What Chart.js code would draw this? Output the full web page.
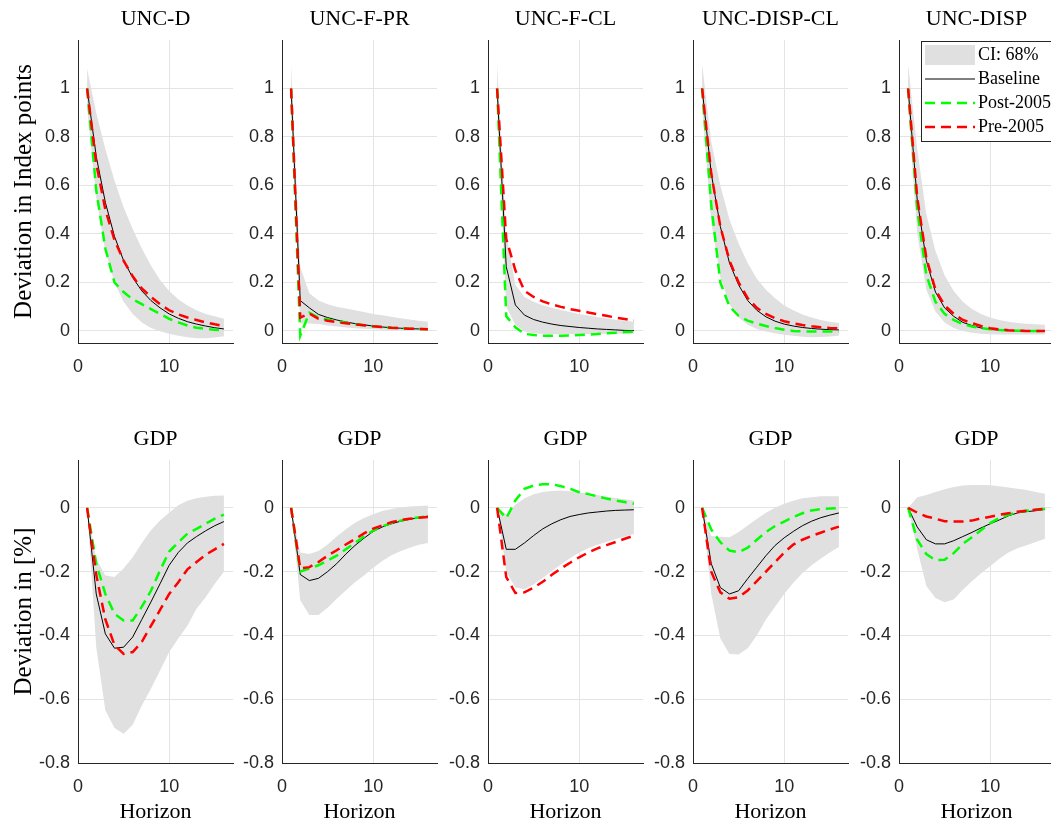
<!DOCTYPE html>
<html>
<head>
<meta charset="utf-8">
<script src="https://cdn.jsdelivr.net/npm/chart.js@4.4.0/dist/chart.umd.min.js"></script>
<style>
  html, body { margin: 0; padding: 0; background: #fff; overflow: hidden; }
  body { width: 1051px; height: 827px; position: relative; }
  canvas { position: absolute; }
</style>
</head>
<body>
<script>
// horizons and ticks
const horizon = [1, 2, 3, 4, 5, 6, 7, 8, 9, 10, 11, 12, 13, 14, 15, 16];
const horizonTicks = [0, 10];
const shockTicks = [0, 0.2, 0.4, 0.6, 0.8, 1];
const gdpTicks = [-0.8, -0.6, -0.4, -0.2, 0];
const shockNames = ['UNC-D', 'UNC-F-PR', 'UNC-F-CL', 'UNC-DISP-CL', 'UNC-DISP'];
const legendLabels = ['CI: 68%', 'Baseline', 'Post-2005', 'Pre-2005'];

// top row: response of the uncertainty index itself
const uncD_base = [1.0, 0.72, 0.53, 0.39, 0.29, 0.22, 0.165, 0.125, 0.095, 0.07, 0.052, 0.038, 0.028, 0.02, 0.013, 0.008];
const uncD_post = [1.0, 0.58, 0.34, 0.2, 0.16, 0.13, 0.11, 0.09, 0.07, 0.05, 0.035, 0.022, 0.013, 0.008, 0.005, 0.003];
const uncD_pre  = [1.0, 0.69, 0.5, 0.375, 0.29, 0.225, 0.175, 0.14, 0.11, 0.085, 0.068, 0.055, 0.045, 0.035, 0.027, 0.02];
const uncD_hi   = [1.08, 0.9, 0.75, 0.62, 0.51, 0.42, 0.34, 0.27, 0.21, 0.165, 0.13, 0.105, 0.085, 0.07, 0.06, 0.05];
const uncD_lo   = [0.92, 0.55, 0.33, 0.2, 0.12, 0.07, 0.035, 0.012, -0.002, -0.012, -0.02, -0.026, -0.03, -0.03, -0.027, -0.022];

const uncFPR_base = [1.0, 0.125, 0.095, 0.068, 0.055, 0.045, 0.037, 0.03, 0.025, 0.02, 0.016, 0.013, 0.011, 0.009, 0.008, 0.007];
const uncFPR_post = [1.0, -0.02, 0.075, 0.055, 0.047, 0.04, 0.034, 0.028, 0.023, 0.019, 0.016, 0.013, 0.011, 0.009, 0.008, 0.007];
const uncFPR_pre  = [1.0, 0.055, 0.072, 0.05, 0.042, 0.036, 0.031, 0.027, 0.023, 0.019, 0.016, 0.013, 0.011, 0.009, 0.008, 0.007];
const uncFPR_hi   = [1.1, 0.265, 0.155, 0.125, 0.11, 0.1, 0.092, 0.085, 0.078, 0.07, 0.064, 0.058, 0.052, 0.047, 0.042, 0.038];
const uncFPR_lo   = [0.92, 0.03, 0.03, 0.028, 0.022, 0.018, 0.014, 0.011, 0.009, 0.007, 0.005, 0.004, 0.003, 0.003, 0.003, 0.003];

const uncFCL_base = [1.0, 0.265, 0.107, 0.065, 0.047, 0.036, 0.028, 0.022, 0.018, 0.014, 0.011, 0.008, 0.006, 0.004, 0.002, 0.001];
const uncFCL_post = [1.0, 0.06, 0.015, -0.012, -0.017, -0.02, -0.02, -0.02, -0.019, -0.017, -0.015, -0.013, -0.01, -0.008, -0.005, -0.003];
const uncFCL_pre  = [1.0, 0.38, 0.25, 0.165, 0.14, 0.122, 0.109, 0.099, 0.09, 0.083, 0.076, 0.069, 0.062, 0.055, 0.049, 0.043];
const uncFCL_hi   = [1.1, 0.4, 0.19, 0.14, 0.12, 0.106, 0.095, 0.086, 0.078, 0.07, 0.063, 0.057, 0.051, 0.046, 0.042, 0.038];
const uncFCL_lo   = [0.92, 0.1, 0.025, -0.003, -0.01, -0.013, -0.014, -0.014, -0.014, -0.013, -0.013, -0.013, -0.012, -0.012, -0.012, -0.012];

const uncDCL_base = [1.0, 0.65, 0.43, 0.28, 0.19, 0.125, 0.085, 0.058, 0.04, 0.028, 0.02, 0.014, 0.01, 0.007, 0.005, 0.004];
const uncDCL_post = [1.0, 0.52, 0.2, 0.1, 0.062, 0.042, 0.03, 0.02, 0.012, 0.005, 0.0, -0.002, -0.003, -0.003, -0.003, -0.003];
const uncDCL_pre  = [1.0, 0.65, 0.43, 0.29, 0.2, 0.135, 0.095, 0.07, 0.052, 0.04, 0.031, 0.024, 0.019, 0.015, 0.012, 0.01];
const uncDCL_hi   = [1.1, 0.78, 0.6, 0.46, 0.36, 0.28, 0.215, 0.17, 0.135, 0.105, 0.085, 0.068, 0.055, 0.045, 0.038, 0.032];
const uncDCL_lo   = [0.92, 0.45, 0.22, 0.11, 0.055, 0.025, 0.008, -0.003, -0.01, -0.016, -0.02, -0.024, -0.026, -0.025, -0.023, -0.02];

const uncDSP_base = [1.0, 0.54, 0.29, 0.16, 0.095, 0.06, 0.035, 0.022, 0.012, 0.006, 0.003, 0.001, 0.0, 0.0, 0.0, 0.0];
const uncDSP_post = [1.0, 0.5, 0.23, 0.12, 0.07, 0.045, 0.028, 0.018, 0.011, 0.007, 0.004, 0.002, 0.001, 0.0, 0.0, 0.0];
const uncDSP_pre  = [1.0, 0.55, 0.3, 0.17, 0.105, 0.07, 0.045, 0.032, 0.02, 0.011, 0.006, 0.003, 0.001, 0.0, 0.0, 0.0];
const uncDSP_hi   = [1.1, 0.75, 0.48, 0.33, 0.23, 0.165, 0.12, 0.09, 0.07, 0.055, 0.045, 0.038, 0.033, 0.029, 0.027, 0.025];
const uncDSP_lo   = [0.92, 0.4, 0.17, 0.08, 0.035, 0.012, 0.0, -0.008, -0.012, -0.014, -0.015, -0.015, -0.015, -0.015, -0.015, -0.015];

// bottom row: GDP response to each shock
const gdpD_base = [0, -0.27, -0.395, -0.44, -0.437, -0.405, -0.35, -0.295, -0.238, -0.18, -0.14, -0.11, -0.09, -0.072, -0.056, -0.043];
const gdpD_post = [0, -0.175, -0.27, -0.332, -0.353, -0.353, -0.31, -0.26, -0.196, -0.137, -0.108, -0.081, -0.066, -0.05, -0.034, -0.021];
const gdpD_pre  = [0, -0.21, -0.35, -0.43, -0.458, -0.452, -0.42, -0.37, -0.32, -0.27, -0.233, -0.193, -0.17, -0.147, -0.13, -0.113];
const gdpD_hi   = [0, -0.16, -0.212, -0.217, -0.19, -0.155, -0.11, -0.07, -0.04, -0.015, 0.008, 0.022, 0.03, 0.035, 0.038, 0.039];
const gdpD_lo   = [0, -0.437, -0.635, -0.69, -0.708, -0.68, -0.62, -0.567, -0.51, -0.452, -0.41, -0.37, -0.316, -0.28, -0.238, -0.2];

const gdpFPR_base = [0, -0.209, -0.228, -0.221, -0.2, -0.175, -0.145, -0.118, -0.095, -0.074, -0.06, -0.05, -0.042, -0.036, -0.031, -0.026];
const gdpFPR_post = [0, -0.2, -0.19, -0.18, -0.165, -0.15, -0.13, -0.11, -0.09, -0.071, -0.058, -0.048, -0.04, -0.034, -0.03, -0.026];
const gdpFPR_pre  = [0, -0.19, -0.186, -0.17, -0.15, -0.133, -0.115, -0.098, -0.08, -0.065, -0.055, -0.045, -0.038, -0.034, -0.031, -0.029];
const gdpFPR_hi   = [0, -0.14, -0.145, -0.135, -0.115, -0.09, -0.067, -0.047, -0.032, -0.02, -0.01, -0.004, 0.001, 0.004, 0.006, 0.007];
const gdpFPR_lo   = [0, -0.29, -0.336, -0.336, -0.313, -0.285, -0.259, -0.233, -0.212, -0.188, -0.167, -0.149, -0.136, -0.125, -0.116, -0.11];

const gdpFCL_base = [0, -0.13, -0.13, -0.11, -0.087, -0.066, -0.05, -0.037, -0.027, -0.021, -0.016, -0.013, -0.01, -0.008, -0.007, -0.006];
const gdpFCL_post = [0, -0.033, 0.023, 0.06, 0.07, 0.074, 0.074, 0.068, 0.06, 0.049, 0.043, 0.036, 0.029, 0.023, 0.018, 0.013];
const gdpFCL_pre  = [0, -0.217, -0.267, -0.265, -0.25, -0.232, -0.21, -0.19, -0.172, -0.155, -0.14, -0.127, -0.117, -0.107, -0.097, -0.087];
const gdpFCL_hi   = [0, -0.02, 0.01, 0.03, 0.043, 0.05, 0.053, 0.054, 0.052, 0.049, 0.045, 0.04, 0.035, 0.031, 0.027, 0.023];
const gdpFCL_lo   = [0, -0.2, -0.25, -0.255, -0.24, -0.22, -0.198, -0.178, -0.158, -0.14, -0.127, -0.116, -0.107, -0.098, -0.09, -0.082];

const gdpDCL_base = [0, -0.175, -0.25, -0.27, -0.26, -0.222, -0.186, -0.15, -0.118, -0.094, -0.074, -0.056, -0.042, -0.031, -0.023, -0.016];
const gdpDCL_post = [0, -0.068, -0.108, -0.134, -0.139, -0.125, -0.1, -0.076, -0.057, -0.043, -0.029, -0.017, -0.008, -0.004, -0.002, -0.001];
const gdpDCL_pre  = [0, -0.2, -0.265, -0.285, -0.28, -0.259, -0.23, -0.2, -0.17, -0.14, -0.115, -0.1, -0.088, -0.078, -0.068, -0.059];
const gdpDCL_hi   = [0, -0.088, -0.091, -0.092, -0.076, -0.055, -0.035, -0.015, 0.0, 0.013, 0.022, 0.03, 0.033, 0.036, 0.036, 0.036];
const gdpDCL_lo   = [0, -0.27, -0.41, -0.458, -0.46, -0.44, -0.4, -0.35, -0.31, -0.27, -0.235, -0.205, -0.18, -0.16, -0.14, -0.123];

const gdpDSP_base = [0, -0.06, -0.1, -0.113, -0.113, -0.103, -0.09, -0.077, -0.063, -0.05, -0.038, -0.025, -0.016, -0.012, -0.009, -0.005];
const gdpDSP_post = [0, -0.1, -0.145, -0.164, -0.163, -0.142, -0.113, -0.092, -0.07, -0.048, -0.032, -0.022, -0.013, -0.009, -0.006, -0.003];
const gdpDSP_pre  = [0, -0.015, -0.027, -0.034, -0.042, -0.043, -0.043, -0.04, -0.033, -0.028, -0.022, -0.017, -0.012, -0.009, -0.006, -0.003];
const gdpDSP_hi   = [0, 0.033, 0.04, 0.05, 0.058, 0.065, 0.07, 0.072, 0.072, 0.071, 0.068, 0.064, 0.06, 0.056, 0.05, 0.044];
const gdpDSP_lo   = [0, -0.13, -0.245, -0.283, -0.296, -0.287, -0.257, -0.23, -0.205, -0.183, -0.16, -0.14, -0.127, -0.117, -0.107, -0.097];

const panels = [
  { row: 0, col: 0, title: shockNames[0], base: uncD_base, post: uncD_post, pre: uncD_pre, hi: uncD_hi, lo: uncD_lo },
  { row: 0, col: 1, title: shockNames[1], base: uncFPR_base, post: uncFPR_post, pre: uncFPR_pre, hi: uncFPR_hi, lo: uncFPR_lo },
  { row: 0, col: 2, title: shockNames[2], base: uncFCL_base, post: uncFCL_post, pre: uncFCL_pre, hi: uncFCL_hi, lo: uncFCL_lo },
  { row: 0, col: 3, title: shockNames[3], base: uncDCL_base, post: uncDCL_post, pre: uncDCL_pre, hi: uncDCL_hi, lo: uncDCL_lo },
  { row: 0, col: 4, title: shockNames[4], base: uncDSP_base, post: uncDSP_post, pre: uncDSP_pre, hi: uncDSP_hi, lo: uncDSP_lo, legend: true },
  { row: 1, col: 0, title: 'GDP', base: gdpD_base, post: gdpD_post, pre: gdpD_pre, hi: gdpD_hi, lo: gdpD_lo },
  { row: 1, col: 1, title: 'GDP', base: gdpFPR_base, post: gdpFPR_post, pre: gdpFPR_pre, hi: gdpFPR_hi, lo: gdpFPR_lo },
  { row: 1, col: 2, title: 'GDP', base: gdpFCL_base, post: gdpFCL_post, pre: gdpFCL_pre, hi: gdpFCL_hi, lo: gdpFCL_lo },
  { row: 1, col: 3, title: 'GDP', base: gdpDCL_base, post: gdpDCL_post, pre: gdpDCL_pre, hi: gdpDCL_hi, lo: gdpDCL_lo },
  { row: 1, col: 4, title: 'GDP', base: gdpDSP_base, post: gdpDSP_post, pre: gdpDSP_pre, hi: gdpDSP_hi, lo: gdpDSP_lo },
];

const COLOR_BAND = '#e0e0e0';
const COLOR_AXIS = '#262626';
const COLOR_GRID = '#e4e4e4';
const SERIF = 'Liberation Serif';
const SANS = 'Liberation Sans';
const DASH = [10, 6];

// left edge of each plot area, in page pixels
const AXIS_LEFT = [78, 282, 488, 693, 899];
const PLOT_W = 155;
const PLOT_H = 303;
const TITLE_H = 40;

const legendBox = {
  id: 'legendBox',
  afterDraw(chart) {
    const { ctx, chartArea: a } = chart;
    const x0 = a.left + 22, y0 = a.top + 1;
    ctx.save();
    ctx.fillStyle = '#fff';
    ctx.fillRect(x0, y0, 200, 100);
    ctx.strokeStyle = COLOR_AXIS;
    ctx.lineWidth = 1;
    ctx.strokeRect(x0 + 0.5, y0 + 0.5, 200, 100);

    const sx = x0 + 4, ex = x0 + 54, tx = x0 + 57;
    const rows = [y0 + 14, y0 + 38, y0 + 62, y0 + 86];
    ctx.fillStyle = COLOR_BAND;
    ctx.fillRect(sx, y0 + 4, ex - sx, 20);

    ctx.beginPath();
    ctx.strokeStyle = '#000';
    ctx.lineWidth = 1;
    ctx.moveTo(sx, rows[1]); ctx.lineTo(ex, rows[1]);
    ctx.stroke();

    ctx.setLineDash(DASH);
    ctx.lineWidth = 2.5;
    ctx.strokeStyle = '#00ff00';
    ctx.beginPath(); ctx.moveTo(sx, rows[2]); ctx.lineTo(ex, rows[2]); ctx.stroke();
    ctx.strokeStyle = '#ff0000';
    ctx.beginPath(); ctx.moveTo(sx, rows[3]); ctx.lineTo(ex, rows[3]); ctx.stroke();
    ctx.setLineDash([]);

    ctx.fillStyle = '#000';
    ctx.font = `18px "${SERIF}"`;
    ctx.textAlign = 'left';
    ctx.textBaseline = 'middle';
    legendLabels.forEach((t, i) => ctx.fillText(t, tx, rows[i]));
    ctx.restore();
  }
};

function makePanel(p) {
  const axW = p.col === 0 ? AXIS_LEFT[0] : 60;
  const xAxH = p.row === 0 ? 40 : 64;
  const left = AXIS_LEFT[p.col] - axW;
  const top = p.row === 0 ? 0 : 420;
  const w = axW + PLOT_W + 15;
  const h = TITLE_H + PLOT_H + xAxH;

  const canvas = document.createElement('canvas');
  canvas.width = w;
  canvas.height = h;
  canvas.style.left = left + 'px';
  canvas.style.top = top + 'px';
  canvas.style.width = w + 'px';
  canvas.style.height = h + 'px';
  document.body.appendChild(canvas);

  const pts = arr => horizon.map((x, i) => ({ x, y: arr[i] }));
  const yTicks = p.row === 0 ? shockTicks : gdpTicks;
  const yTitle = p.row === 0 ? 'Deviation in Index points' : 'Deviation in [%]';

  new Chart(canvas, {
    type: 'line',
    data: {
      datasets: [
        { label: legendLabels[3], data: pts(p.pre), borderColor: '#ff0000', borderWidth: 2.5, borderDash: DASH, fill: false },
        { label: legendLabels[2], data: pts(p.post), borderColor: '#00ff00', borderWidth: 2.5, borderDash: DASH, fill: false },
        { label: legendLabels[1], data: pts(p.base), borderColor: '#000000', borderWidth: 1, fill: false },
        { label: 'lower', data: pts(p.lo), borderColor: 'transparent', borderWidth: 0, fill: false },
        { label: legendLabels[0], data: pts(p.hi), borderColor: 'transparent', borderWidth: 0, backgroundColor: COLOR_BAND, fill: '-1' },
      ],
    },
    options: {
      responsive: false,
      animation: false,
      events: [],
      elements: { point: { radius: 0 }, line: { tension: 0 } },
      layout: { padding: { left: 0, right: 15, top: 0, bottom: 0 } },
      plugins: {
        legend: { display: false },
        tooltip: { enabled: false },
        title: {
          display: true,
          text: p.title,
          fullSize: false,
          color: '#000',
          font: { family: SERIF, size: 22, weight: 'normal' },
          padding: { top: 6, bottom: 7.6 },
        },
      },
      scales: {
        x: {
          type: 'linear',
          min: 0,
          max: 17,
          afterBuildTicks: s => { s.ticks = horizonTicks.map(v => ({ value: v })); },
          afterFit: s => { s.height = xAxH; },
          grid: { color: COLOR_GRID, drawTicks: false },
          border: { color: COLOR_AXIS, width: 1 },
          ticks: { padding: 13, color: COLOR_AXIS, font: { family: SANS, size: 18 }, callback: v => String(v) },
          title: {
            display: p.row === 1,
            text: 'Horizon',
            color: '#000',
            font: { family: SERIF, size: 22 },
            padding: { top: 0, bottom: 2 },
          },
        },
        y: {
          min: p.row === 0 ? -0.05 : -0.8,
          max: p.row === 0 ? 1.2 : 0.15,
          afterBuildTicks: s => { s.ticks = yTicks.map(v => ({ value: v })); },
          afterFit: s => { s.width = axW; },
          grid: { color: COLOR_GRID, drawTicks: false },
          border: { color: COLOR_AXIS, width: 1 },
          ticks: { padding: 8, color: COLOR_AXIS, font: { family: SANS, size: 18 }, callback: v => String(v) },
          title: {
            display: p.col === 0,
            text: yTitle,
            color: '#000',
            font: { family: SERIF, size: 25 },
            padding: { top: 9, bottom: 0 },
          },
        },
      },
    },
    plugins: p.legend ? [legendBox] : [],
  });
}

panels.forEach(makePanel);
</script>
</body>
</html>
